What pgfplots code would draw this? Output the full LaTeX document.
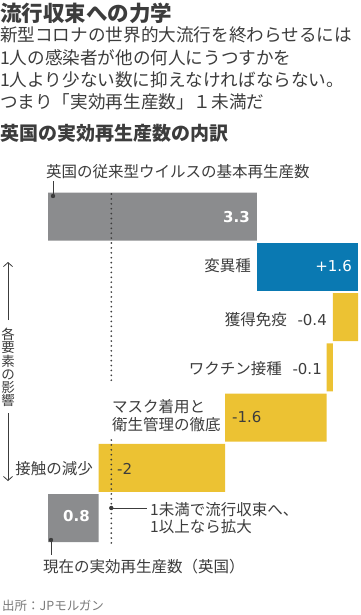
\documentclass[border=0pt]{standalone}
\usepackage{pgfplots}
\pgfplotsset{compat=1.18}
\usetikzlibrary{arrows.meta}
\usepackage{fontspec}
\setmainfont{Noto Sans CJK JP}
\newfontfamily\numfont{DejaVu Sans}
\definecolor{txt}{HTML}{3C3C3C}
\definecolor{srcc}{HTML}{7A7A7A}
\definecolor{barg}{HTML}{8B8C8E}
\definecolor{barb}{HTML}{0A79B2}
\definecolor{bary}{HTML}{ECC233}
\newcommand{\fs}[1]{\fontsize{#1bp}{#1bp}\selectfont}
\begin{document}
\begin{tikzpicture}[x=1bp,y=-1bp]
\path[use as bounding box] (0,0) rectangle (360,615);
\begin{axis}[
  at={(0bp,-615bp)}, anchor=south west,
  scale only axis, width=360bp, height=615bp,
  xmin=-0.7583, xmax=4.9289,
  ymin=-3.308, ymax=8.930, y dir=reverse,
  hide axis, clip=false,
  xbar stacked, bar width=0.955,
]
% invisible base
\addplot[draw=none, fill=none] coordinates {(0,1) (3.3,2) (4.5,3) (4.4,4) (2.8,5) (0.8,6) (0,7)};
% gray: basic and current
\addplot[draw=none, fill=barg] coordinates {(3.3,1) (0,2) (0,3) (0,4) (0,5) (0,6) (0.8,7)};
% blue: variant
\addplot[draw=none, fill=barb] coordinates {(0,1) (1.6,2) (0,3) (0,4) (0,5) (0,6) (0,7)};
% yellow: reductions
\addplot[draw=none, fill=bary] coordinates {(0,1) (0,2) (0.4,3) (0.1,4) (1.6,5) (2,6) (0,7)};
\end{axis}
% dotted R=1 line
\draw[txt, line width=1.9bp, line cap=round, dash pattern=on 0bp off 4.9bp] (111.3,194) -- (111.3,383);
\draw[txt, line width=1.9bp, line cap=round, dash pattern=on 0bp off 4.9bp] (111.3,440) -- (111.3,545);
% titles
\node[anchor=west, inner sep=0, txt, font=\fs{21.5}\bfseries] at (0,13) {流行収束への力学};
\node[anchor=west, inner sep=0, txt, font=\fs{17.6}] at (0,35) {新型コロナの世界的大流行を終わらせるには};
\node[anchor=west, inner sep=0, txt, font=\fs{17.6}] at (0,57.5) {1人の感染者が他の何人にうつすかを};
\node[anchor=west, inner sep=0, txt, font=\fs{17.6}] at (0,80) {1人より少ない数に抑えなければならない。};
\node[anchor=west, inner sep=0, txt, font=\fs{17.6}] at (0,102) {つまり「実効再生産数」１未満だ};
\node[anchor=west, inner sep=0, txt, font=\fs{19}\bfseries] at (0,133) {英国の実効再生産数の内訳};
% top annotation
\node[anchor=west, inner sep=0, txt, font=\fs{15.5}] at (46,172) {英国の従来型ウイルスの基本再生産数};
\draw[txt, line width=1bp] (53,196) -- (53,181);
\fill[txt] (53,196) circle (2.2bp);
% bar labels
\node[anchor=east, inner sep=0, white, font=\numfont\fs{15}\bfseries] at (250,217) {3.3};
\node[anchor=east, inner sep=0, txt, font=\fs{15.5}] at (251,266) {変異種};
\node[anchor=east, inner sep=0, white, font=\numfont\fs{15}] at (352,266) {+1.6};
\node[anchor=east, inner sep=0, txt, font=\fs{15.5}] at (287,320) {獲得免疫};
\node[anchor=east, inner sep=0, txt, font=\numfont\fs{15}] at (327,320) {-0.4};
\node[anchor=east, inner sep=0, txt, font=\fs{15.5}] at (282,369) {ワクチン接種};
\node[anchor=east, inner sep=0, txt, font=\numfont\fs{15}] at (322,369) {-0.1};
\node[anchor=west, inner sep=0, txt, font=\fs{15.5}] at (112,407) {マスク着用と};
\node[anchor=west, inner sep=0, txt, font=\fs{15.5}] at (112,425) {衛生管理の徹底};
\node[anchor=west, inner sep=0, txt, font=\numfont\fs{15}] at (232,417) {-1.6};
\node[anchor=east, inner sep=0, txt, font=\fs{15.5}] at (93,469) {接触の減少};
\node[anchor=west, inner sep=0, txt, font=\numfont\fs{15}] at (117,469) {-2};
\node[anchor=east, inner sep=0, white, font=\numfont\fs{15}\bfseries] at (90,516) {0.8};
% threshold annotation
\draw[txt, line width=1bp] (111.3,508) -- (147,508);
\fill[txt] (111.3,508) circle (2.2bp);
\node[anchor=west, inner sep=0, txt, font=\fs{15.5}] at (150,510) {1未満で流行収束へ、};
\node[anchor=west, inner sep=0, txt, font=\fs{15.5}] at (150,527) {1以上なら拡大};
% bottom annotation
\draw[txt, line width=1bp] (51,540) -- (51,555);
\fill[txt] (51,540) circle (2.2bp);
\node[anchor=west, inner sep=0, txt, font=\fs{15.5}] at (43,567) {現在の実効再生産数（英国）};
% left vertical arrows and label
\draw[txt, line width=0.8bp, -{Straight Barb[length=4bp,width=9bp]}] (8,320) -- (8,262);
\draw[txt, line width=0.8bp, -{Straight Barb[length=4bp,width=9bp]}] (8,413) -- (8,481);
\node[inner sep=0, txt, font=\fs{13.5}, align=center] at (8,367.5) {各\\[-0.3bp]要\\[-0.3bp]素\\[-0.3bp]の\\[-0.3bp]影\\[-0.3bp]響};
% source
\node[anchor=west, inner sep=0, srcc, font=\fs{12.5}] at (2,606) {出所：JPモルガン};
\end{tikzpicture}
\end{document}
